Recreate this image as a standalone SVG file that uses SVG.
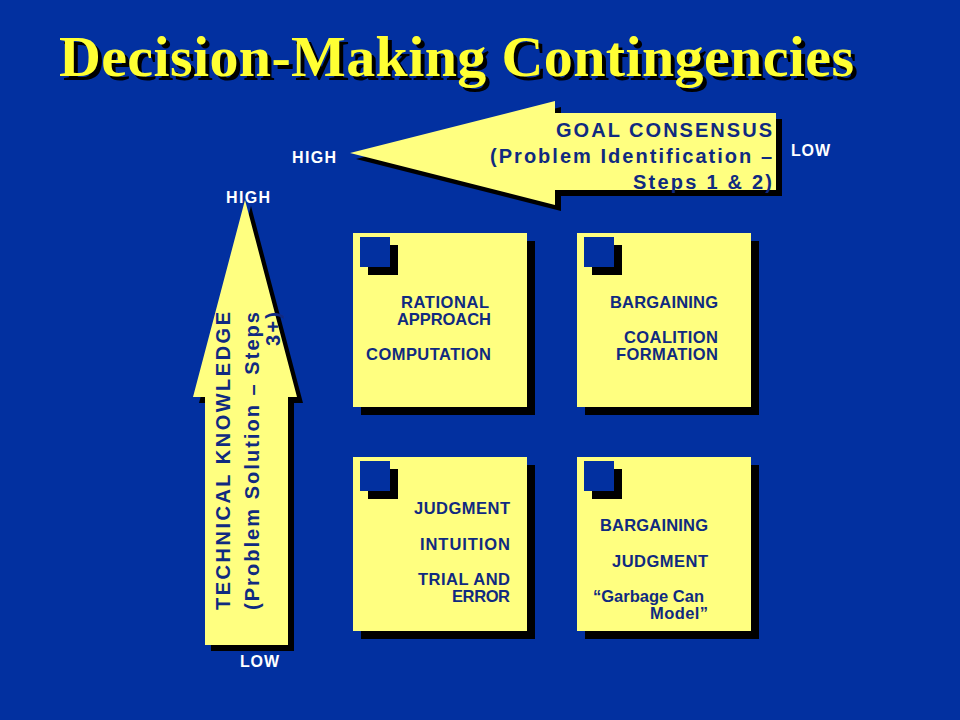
<svg xmlns="http://www.w3.org/2000/svg" width="960" height="720" viewBox="0 0 960 720">
<style>
.t{font-family:"Liberation Sans",Arial,sans-serif;font-weight:bold;fill:#102a80;font-size:16.5px}
.w{font-family:"Liberation Sans",Arial,sans-serif;font-weight:bold;fill:#fff;font-size:16px}
.a{font-family:"Liberation Sans",Arial,sans-serif;font-weight:bold;fill:#102a80;font-size:20px}
.y{fill:#ffff80}
</style>
<rect width="960" height="720" fill="#0230a0"/>
<text x="63" y="80" font-family="Liberation Serif,serif" font-weight="bold" font-size="58" fill="#000" textLength="795">Decision-Making Contingencies</text>
<text x="59" y="76" font-family="Liberation Serif,serif" font-weight="bold" font-size="58" fill="#ffff33" textLength="795">Decision-Making Contingencies</text>
<g id="goal">
<polygon points="356,159 561,107 561,119 782,119 782,196 561,196 561,211" fill="#000"/>
<polygon class="y" points="350,153 555,101 555,113 776,113 776,190 555,190 555,205"/>
<text class="a" x="556" y="137" textLength="216">GOAL CONSENSUS</text>
<text class="a" x="490" y="163" textLength="282">(Problem Identification –</text>
<text class="a" x="633" y="189" textLength="139">Steps 1 &amp; 2)</text>
</g>
<text class="w" x="292" y="163" textLength="44">HIGH</text>
<text class="w" x="791" y="156" textLength="39">LOW</text>
<g id="tech">
<polygon points="251,206 303,403 294,403 294,651 211,651 211,403 199,403" fill="#000"/>
<polygon class="y" points="245,200 297,397 288,397 288,645 205,645 205,397 193,397"/>
<g transform="translate(230,312) rotate(-90)">
<text class="a" x="-298" y="0" textLength="298">TECHNICAL KNOWLEDGE</text>
<text class="a" x="-298" y="29" textLength="298">(Problem Solution – Steps</text>
<text class="a" x="-34" y="50" textLength="34">3+)</text>
</g>
</g>
<text class="w" x="226" y="203" textLength="44">HIGH</text>
<text class="w" x="240" y="667" textLength="39">LOW</text>
<defs>
<g id="box">
<rect x="8" y="8" width="174" height="174" fill="#000"/>
<rect width="174" height="174" class="y"/>
<rect x="15" y="12" width="30" height="30" fill="#000"/>
<rect x="7" y="4" width="30" height="30" fill="#0230a0"/>
</g>
</defs>
<g id="n1"><use href="#box" x="353" y="233"/>
<text class="t" x="401" y="308" textLength="88">RATIONAL</text>
<text class="t" x="397" y="325" textLength="94">APPROACH</text>
<text class="t" x="366" y="360" textLength="125">COMPUTATION</text></g>
<g id="n2"><use href="#box" x="577" y="233"/>
<text class="t" x="610" y="308" textLength="108">BARGAINING</text>
<text class="t" x="624" y="343" textLength="94">COALITION</text>
<text class="t" x="616" y="360" textLength="102">FORMATION</text></g>
<g id="n3"><use href="#box" x="353" y="457"/>
<text class="t" x="414" y="514" textLength="96">JUDGMENT</text>
<text class="t" x="420" y="550" textLength="90">INTUITION</text>
<text class="t" x="418" y="585" textLength="92">TRIAL AND</text>
<text class="t" x="452" y="602" textLength="58">ERROR</text></g>
<g id="n4"><use href="#box" x="577" y="457"/>
<text class="t" x="600" y="531" textLength="108">BARGAINING</text>
<text class="t" x="612" y="567" textLength="96">JUDGMENT</text>
<text class="t" x="593" y="602" textLength="111">“Garbage Can</text>
<text class="t" x="650" y="619" textLength="58">Model”</text></g>
</svg>
